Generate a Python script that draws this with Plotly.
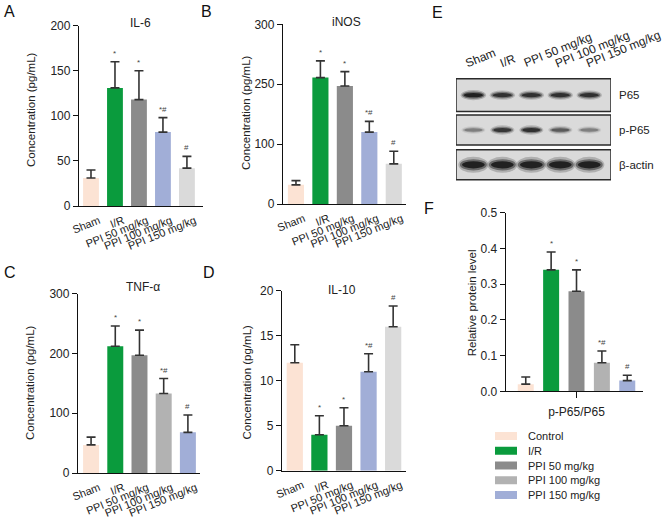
import plotly.graph_objects as go

W, H = 671, 525
FONT = "Liberation Sans, Arial, sans-serif"
TXT = "#222222"

# ---------------- data ----------------
groups = ["Sham", "I/R", "PPI 50 mg/kg", "PPI 100 mg/kg", "PPI 150 mg/kg"]
marks = ["", "*", "*", "*#", "#"]

il6_mean = [31, 131, 118, 82, 42]
il6_sd = [9, 29, 32, 16, 13]

inos_mean = [32, 211, 197, 120, 67]
inos_sd = [7, 28, 24, 18, 21]
inos_tickvals = [0, 100, 200, 300]
inos_ticktext = ["0", "100", "250", "300"]

tnf_mean = [47, 212, 197, 133, 68]
tnf_sd = [13, 34, 42, 25, 29]

il10_mean = [12, 4, 5, 11, 16]
il10_sd = [2, 2.1, 2, 2, 2.3]

pp65_ratio_mean = [0.02, 0.34, 0.28, 0.08, 0.03]
pp65_ratio_sd = [0.02, 0.05, 0.06, 0.033, 0.015]
legend_labels = ["Control", "I/R", "PPI 50 mg/kg", "PPI 100 mg/kg", "PPI 150 mg/kg"]

# western blot band intensities (relative darkness)
blot_rows = ["P65", "p-P65", "β-actin"]
blot_intensity = [
    [1.00, 0.85, 0.85, 0.85, 0.85],
    [0.35, 0.80, 0.85, 0.55, 0.35],
    [1.00, 1.00, 1.00, 1.00, 1.00],
]

# colours
C_SHAM = "#fce3d4"
C_IR = "#0a9b3d"
C_P50 = "#8b8b8b"
C_BLUE = "#a1aed7"
C_LGRAY = "#dadada"
C_MGRAY = "#b2b2b2"
colors_A = [C_SHAM, C_IR, C_P50, C_BLUE, C_LGRAY]
colors_C = [C_SHAM, C_IR, C_P50, C_MGRAY, C_BLUE]


def px(p):
    return p / W


def py(p):
    return 1 - p / H


fig = go.Figure()
annotations = []
shapes = []

xs = list(range(5))

panels = [
    ("", il6_mean, il6_sd, colors_A, (79, 203), (25.7, 206), [0, 200], [-0.5, 4.67],
     [0, 50, 100, 150, 200], None, "IL-6", (140, 23), (31, 110)),
    ("2", inos_mean, inos_sd, colors_A, (283, 406), (24.3, 204), [0, 300], [-0.53, 4.5],
     inos_tickvals, inos_ticktext, "iNOS", (347, 22), (246, 113)),
    ("3", tnf_mean, tnf_sd, colors_C, (78, 200), (293.7, 473), [0, 300], [-0.54, 4.5],
     [0, 100, 200, 300], None, "TNF-α", (143, 287), (30, 383)),
    ("4", il10_mean, il10_sd, colors_A, (282, 405.7), (290.7, 470.7), [0, 20], [-0.52, 4.51],
     [0, 5, 10, 15, 20], None, "IL-10", (342, 290), (246.5, 382)),
]

layout_axes = {}
for suf, m, s, cols, xd, yd, yr, xr, tv, tt, title, tpos, ytpos in panels:
    fig.add_trace(go.Bar(
        x=xs, y=m, marker=dict(color=cols, line=dict(width=0)), width=0.66,
        error_y=dict(type="data", array=s, arrayminus=[0] * 5, symmetric=False,
                     color="#333333", thickness=1.6, width=4.5),
        xaxis="x" + suf, yaxis="y" + suf, showlegend=False, hoverinfo="skip"))
    xa = "xaxis" + suf
    ya = "yaxis" + suf
    layout_axes[xa] = dict(domain=[px(xd[0]), px(xd[1])], range=xr, anchor="y" + suf,
                           tickmode="array", tickvals=xs, ticktext=groups, tickangle=-22,
                           ticklabelshift=8, ticklabelstandoff=3,
                           ticks="", showline=True, linecolor="#111", linewidth=1.3,
                           showgrid=False, zeroline=False, automargin=False,
                           tickfont=dict(size=11, color=TXT, family=FONT), fixedrange=True)
    layout_axes[ya] = dict(domain=[py(yd[1]), py(yd[0])], range=yr, anchor="x" + suf,
                           tickmode="array", tickvals=tv,
                           ticktext=tt if tt else [str(v) for v in tv],
                           ticks="outside", ticklen=5, tickwidth=1.3, tickcolor="#111",
                           showline=True, linecolor="#111", linewidth=1.3,
                           showgrid=False, zeroline=False, automargin=False,
                           tickfont=dict(size=12, color=TXT, family=FONT), fixedrange=True)
    annotations.append(dict(x=px(tpos[0]), y=py(tpos[1]), xref="paper", yref="paper",
                            xanchor="center", yanchor="middle",
                            text=title, showarrow=False, font=dict(size=12, color=TXT, family=FONT)))
    annotations.append(dict(x=px(ytpos[0]), y=py(ytpos[1]), xref="paper", yref="paper",
                            xanchor="center", yanchor="middle",
                            text="Concentration (pg/mL)", textangle=-90, showarrow=False,
                            font=dict(size=11.5, color=TXT, family=FONT)))
    for i in xs:
        if marks[i]:
            annotations.append(dict(x=i, y=m[i] + s[i], xref="x" + suf, yref="y" + suf,
                                    text=marks[i], showarrow=False, xanchor="center",
                                    yanchor="bottom", yshift=2,
                                    font=dict(size=8, color="#444", family=FONT)))

# ---------------- panel F ----------------
fig.add_trace(go.Bar(
    x=xs, y=pp65_ratio_mean, marker=dict(color=colors_C, line=dict(width=0)), width=0.63,
    error_y=dict(type="data", array=pp65_ratio_sd, arrayminus=[0] * 5, symmetric=False,
                 color="#333333", thickness=1.6, width=4.5),
    xaxis="x5", yaxis="y5", showlegend=False, hoverinfo="skip"))
layout_axes["xaxis5"] = dict(domain=[px(505.7), px(643)], range=[-0.79, 4.62], anchor="y5",
                             tickmode="array", tickvals=[2], ticktext=["p-P65/P65"],
                             ticks="outside", ticklen=6, tickwidth=1.3, tickcolor="#111",
                             ticklabelstandoff=3,
                             showline=True, linecolor="#111", linewidth=1.3,
                             showgrid=False, zeroline=False, automargin=False,
                             tickfont=dict(size=12, color=TXT, family=FONT), fixedrange=True)
layout_axes["yaxis5"] = dict(domain=[py(391.3), py(212.7)], range=[0, 0.5], anchor="x5",
                             tickmode="array", tickvals=[0, 0.1, 0.2, 0.3, 0.4, 0.5],
                             tickformat=".1f",
                             ticks="outside", ticklen=5, tickwidth=1.3, tickcolor="#111",
                             showline=True, linecolor="#111", linewidth=1.3,
                             showgrid=False, zeroline=False, automargin=False,
                             tickfont=dict(size=12, color=TXT, family=FONT), fixedrange=True)
annotations.append(dict(x=px(472.3), y=py(303), xref="paper", yref="paper",
                        xanchor="center", yanchor="middle",
                        text="Relative protein level", textangle=-90, showarrow=False,
                        font=dict(size=11.5, color=TXT, family=FONT)))
for i in xs:
    if marks[i]:
        annotations.append(dict(x=i, y=pp65_ratio_mean[i] + pp65_ratio_sd[i], xref="x5", yref="y5",
                                text=marks[i], showarrow=False, xanchor="center",
                                yanchor="bottom", yshift=2,
                                font=dict(size=8, color="#444", family=FONT)))

# legend (manual swatches)
for i, (lab, col) in enumerate(zip(legend_labels, colors_C)):
    yc = 436 + 14.75 * i
    shapes.append(dict(type="rect", xref="paper", yref="paper",
                       x0=px(495), x1=px(517), y0=py(yc + 4), y1=py(yc - 4),
                       fillcolor=col, line=dict(width=0)))
    annotations.append(dict(x=px(525.5), y=py(yc), xref="paper", yref="paper", text=lab,
                            xanchor="left", yanchor="middle", showarrow=False,
                            font=dict(size=11, color=TXT, family=FONT)))

# ---------------- panel E : western blot ----------------
BX0, BX1 = 456, 611          # blot pixel extent (x)
BY0, BY1 = 77.7, 182.3       # blot pixel extent (y)
LX = [-0.6, 4.75]            # lane axis range
RY = [2.5, -0.5]             # row axis range (reversed)
layout_axes["xaxis6"] = dict(domain=[px(BX0), px(BX1)], range=LX, anchor="y6",
                             visible=False, fixedrange=True, automargin=False)
layout_axes["yaxis6"] = dict(domain=[py(BY1), py(BY0)], range=RY, anchor="x6",
                             visible=False, fixedrange=True, automargin=False)
fig.add_trace(go.Scatter(x=[0, 4], y=[0, 2], mode="markers", marker=dict(opacity=0),
                         xaxis="x6", yaxis="y6", showlegend=False, hoverinfo="skip"))


def lane_to_px(lane):
    return BX0 + (lane - LX[0]) / (LX[1] - LX[0]) * (BX1 - BX0)


def row_to_px(row):
    return BY0 + (row - RY[1]) / (RY[0] - RY[1]) * (BY1 - BY0)


box_half = [0.47, 0.43, 0.43]
band_w = [0.78, 0.74, 0.93]
band_h = [0.17, 0.17, 0.27]
for r, row in enumerate(blot_rows):
    shapes.append(dict(type="rect", xref="x6", yref="y6", x0=-0.6, x1=4.75,
                       y0=r - box_half[r], y1=r + box_half[r],
                       fillcolor="#dadada", line=dict(color="#2a2a2a", width=1.5), layer="below"))
    for lane in xs:
        inten = blot_intensity[r][lane]
        hw = band_w[r] / 2
        hh = band_h[r] / 2 * (0.6 + 0.4 * inten)
        for scale_w, scale_h, op in [(1.12, 1.7, 0.22), (1.0, 1.2, 0.45), (0.85, 0.75, 0.85)]:
            shapes.append(dict(type="circle", xref="x6", yref="y6",
                               x0=lane - hw * scale_w, x1=lane + hw * scale_w,
                               y0=r - hh * scale_h, y1=r + hh * scale_h,
                               fillcolor="#151515", opacity=op * inten, line=dict(width=0)))
    annotations.append(dict(x=px(617), y=py(row_to_px(r)), xref="paper", yref="paper", text=row,
                            xanchor="left", yanchor="middle", showarrow=False,
                            font=dict(size=11.5, color=TXT, family=FONT)))

lane_offset_px = [-12.7, -7.4, -12.4, -9.3, -7.6]
for lane, lab in enumerate(groups):
    annotations.append(dict(x=px(lane_to_px(lane) + lane_offset_px[lane]), y=py(73),
                            xref="paper", yref="paper", text=lab,
                            textangle=-22, xanchor="left", yanchor="bottom", showarrow=False,
                            font=dict(size=12, color=TXT, family=FONT)))

# panel letters
for letter, (lx, ly) in zip("ABCDEF", [(2, 1), (199, 1), (2, 262), (201, 262), (430, 2), (422, 198)]):
    annotations.append(dict(x=px(lx), y=py(ly), xref="paper", yref="paper", text=letter,
                            xanchor="left", yanchor="top", showarrow=False,
                            font=dict(size=16, color="#111", family=FONT)))

fig.update_layout(
    template="none",
    width=W, height=H, margin=dict(l=0, r=0, t=0, b=0, pad=0), autosize=False,
    paper_bgcolor="white", plot_bgcolor="white",
    font=dict(family=FONT, color=TXT),
    bargap=0.3, showlegend=False,
    annotations=annotations, shapes=shapes,
    **layout_axes,
)

fig.write_html("out.html", config={"displayModeBar": False},
               post_script="document.body.style.margin='0px';document.body.style.padding='0px';")
